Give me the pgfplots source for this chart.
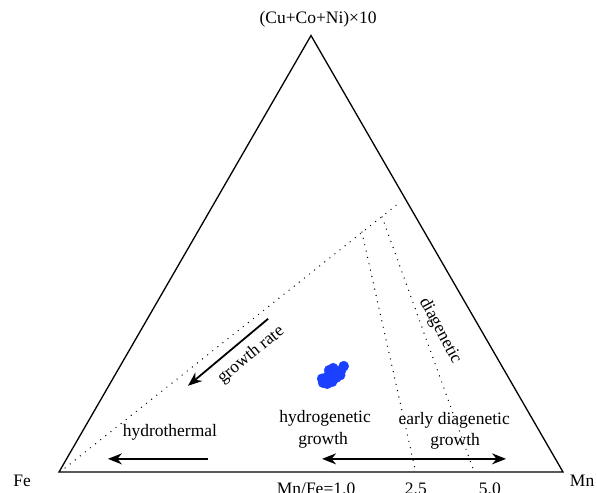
\documentclass[border=0pt]{standalone}
\usepackage{pgfplots}
\pgfplotsset{compat=1.18}
\usepackage{fontspec}
\setmainfont{Liberation Serif}
\usetikzlibrary{arrows.meta}
\definecolor{blobblue}{RGB}{28,64,255}
\tikzset{lab/.style={font=\fontsize{17.5}{21}\selectfont}}
\begin{document}
\fontsize{17.5}{21}\selectfont
\begin{tikzpicture}
\begin{axis}[
  width=597pt, height=493pt, scale only axis,
  xmin=-0.1171, xmax=1.0675, ymin=-0.0417, ymax=0.9365,
  hide axis, clip=false,
  dots/.style={black, line width=1.4pt, line cap=round, dash pattern=on 0pt off 6.5pt},
]
% triangle Fe - Mn - (Cu+Co+Ni)x10
\addplot[black, line width=1.3pt, line join=miter] coordinates {(0.5,0) (1,0) (0.5,0.8660) (0,0) (0.5,0)};
% dotted field boundaries
\addplot[dots] coordinates {(0.012,0.008) (0.675,0.534)};
\addplot[dots] coordinates {(0.601,0.476) (0.706,0.008)};
\addplot[dots] coordinates {(0.641,0.506) (0.821,0.008)};
% samples
\addplot[only marks, mark=*, mark size=5pt, color=blobblue, mark options={draw=blobblue, fill=blobblue}] coordinates {
(0.524,0.177) (0.532,0.175) (0.542,0.179) (0.550,0.187) (0.558,0.192)
(0.544,0.198) (0.536,0.194) (0.530,0.187) (0.522,0.185) (0.540,0.188)
(0.552,0.198) (0.565,0.210) (0.560,0.202) (0.536,0.202) (0.544,0.206)
};
% arrows
\draw[-{Stealth[length=14pt,width=11pt]}, line width=1.8pt] (axis cs:0.415,0.304) -- (axis cs:0.256,0.171);
\draw[-{Stealth[length=14pt,width=11pt]}, line width=1.8pt] (axis cs:0.296,0.026) -- (axis cs:0.097,0.026);
\draw[{Stealth[length=14pt,width=11pt]}-{Stealth[length=14pt,width=11pt]}, line width=1.8pt] (axis cs:0.522,0.026) -- (axis cs:0.887,0.026);
% labels
\node[lab, rotate=39] at (axis cs:0.381,0.232) {growth rate};
\node[lab] at (axis cs:0.220,0.079) {hydrothermal};
\node[lab] at (axis cs:0.528,0.107) {hydrogenetic};
\node[lab] at (axis cs:0.524,0.062) {growth};
\node[lab] at (axis cs:0.784,0.103) {early diagenetic};
\node[lab] at (axis cs:0.786,0.060) {growth};
\node[lab, rotate=-62] at (axis cs:0.756,0.280) {diagenetic};
\node[lab] at (axis cs:0.514,0.899) {(Cu+Co+Ni)×10};
\node[lab] at (axis cs:-0.073,-0.018) {Fe};
\node[lab] at (axis cs:1.038,-0.018) {Mn};
\node[lab, anchor=north, inner sep=0pt] at (axis cs:0.510,-0.022) {Mn/Fe=1.0};
\node[lab, anchor=north, inner sep=0pt] at (axis cs:0.708,-0.022) {2.5};
\node[lab, anchor=north, inner sep=0pt] at (axis cs:0.855,-0.022) {5.0};
\end{axis}
\pgfresetboundingbox
\path[use as bounding box] (current axis.south west) rectangle (current axis.north east);
\end{tikzpicture}
\end{document}
